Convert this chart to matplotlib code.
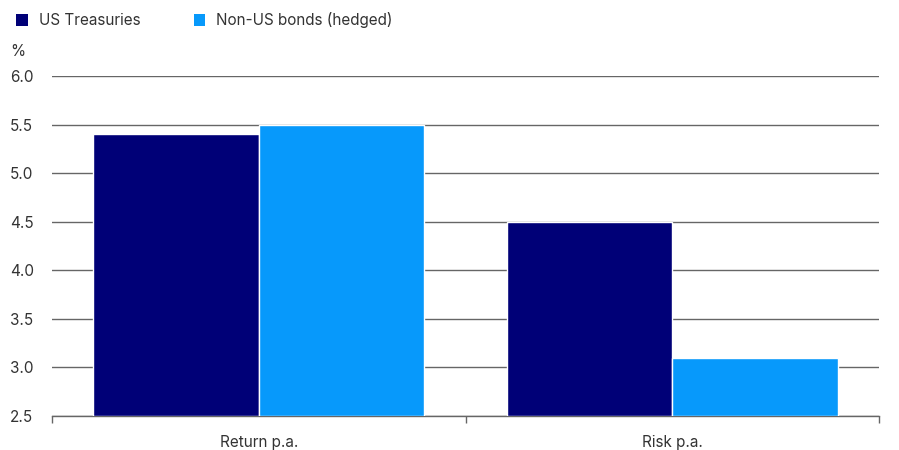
import numpy as np
import matplotlib
matplotlib.use('Agg')
import matplotlib.pyplot as plt
from matplotlib.patches import Patch

plt.rcParams['font.family'] = ['Inter', 'DejaVu Sans']

categories = ['Return p.a.', 'Risk p.a.']
series = ['US Treasuries', 'Non-US bonds (hedged)']
us_treasuries = [5.4, 4.5]
non_us_hedged = [5.5, 3.1]
colors = ['#000077', '#0799fb']
text_col = '#333333'
grid_col = '#666666'

fig = plt.figure(figsize=(8.99, 4.5), dpi=100)
ax = fig.add_axes([52 / 899, 1 - 416 / 450, 827 / 899, 340 / 450])

x = np.arange(len(categories))
w = 0.4
ax.bar(x - w / 2, np.array(us_treasuries) - 2.5, w, bottom=2.5, color=colors[0],
       edgecolor='white', linewidth=1, zorder=3)
ax.bar(x + w / 2, np.array(non_us_hedged) - 2.5, w, bottom=2.5, color=colors[1],
       edgecolor='white', linewidth=1, zorder=3)

ax.set_ylim(2.5, 6.0)
ax.set_xlim(-0.5, 1.5)
ax.set_yticks(np.arange(2.5, 6.01, 0.5))
ax.set_yticklabels([f'{v:.1f}' for v in np.arange(2.5, 6.01, 0.5)])
ax.grid(axis='y', color=grid_col, linewidth=1, zorder=1)
ax.set_axisbelow(True)

for s in ['top', 'right', 'left']:
    ax.spines[s].set_visible(False)
ax.spines['bottom'].set_color(grid_col)
ax.spines['bottom'].set_linewidth(1)

ax.set_xticks(x)
ax.set_xticklabels(categories)
ax.set_xticks([-0.5, 0.5, 1.5], minor=True)
ax.tick_params(axis='x', which='major', length=0, pad=14, labelsize=11, labelcolor=text_col)
ax.tick_params(axis='x', which='minor', length=5, color=grid_col, width=1)
ax.tick_params(axis='y', length=0, labelsize=11, labelcolor=text_col, pad=0)
for lab in ax.get_yticklabels():
    lab.set_horizontalalignment('left')
    lab.set_x(-42 / 827)

fig.text(10 / 899, 1 - 51 / 450, '%', fontsize=11, color=text_col, va='center')

handles = [Patch(facecolor=c, edgecolor='none', label=l) for c, l in zip(colors, series)]
fig.legend(handles=handles, loc='upper left', bbox_to_anchor=(0.003, 1.003), ncol=2,
           frameon=False, handlelength=0.75, handleheight=0.75, columnspacing=3.5,
           handletextpad=0.7, fontsize=11, labelcolor=text_col)

fig.savefig('out.png', dpi=100)
